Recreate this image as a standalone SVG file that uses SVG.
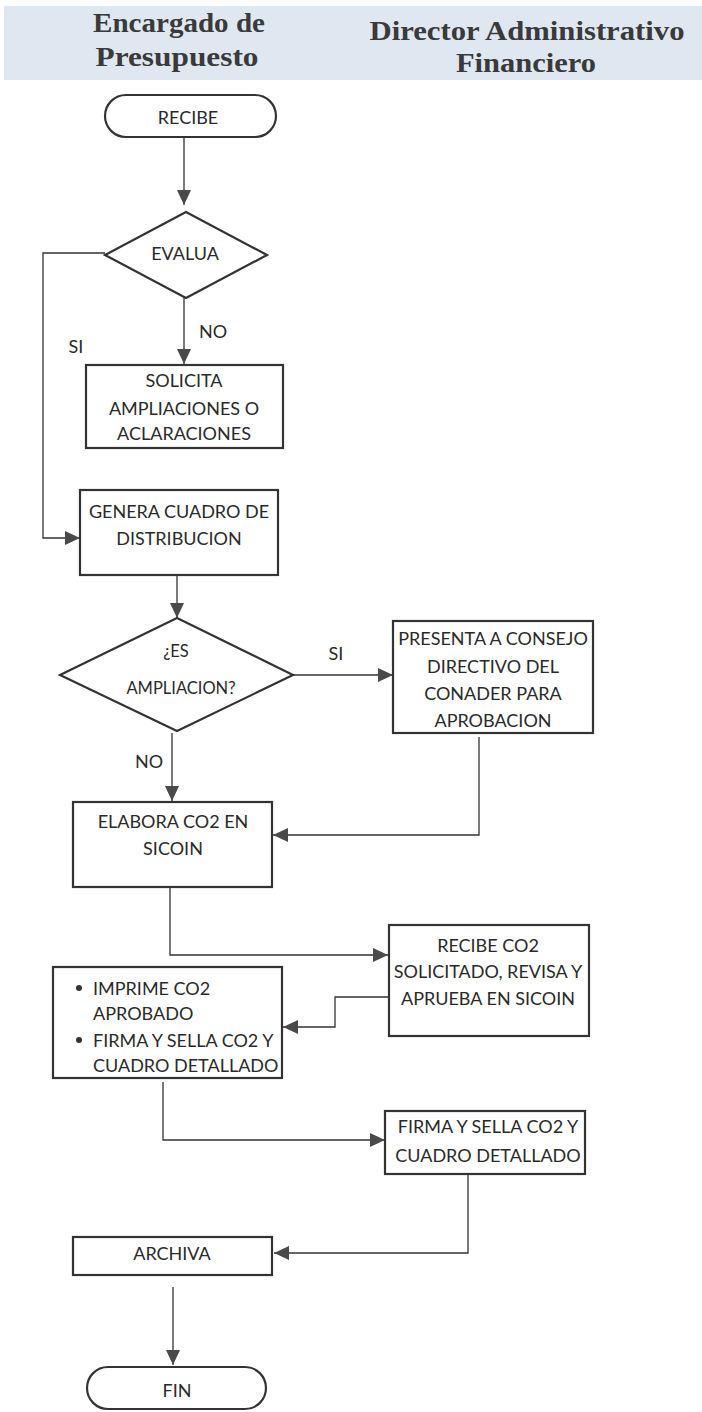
<svg xmlns="http://www.w3.org/2000/svg" width="702" height="1412" viewBox="0 0 702 1412">
  <defs>
    <marker id="arrow" markerWidth="15" markerHeight="14" refX="15" refY="7" orient="auto" markerUnits="userSpaceOnUse">
      <path d="M0,0 L15,7 L0,14 Z" fill="#4a4a4a"/>
    </marker>
    <style>
      .lane { font-family: "Liberation Serif", "DejaVu Serif", serif; font-weight: bold; font-size: 27px; fill: #3a3a3a; text-anchor: middle; }
      .box { fill: #ffffff; stroke: #333333; stroke-width: 2.2; }
      .lbl { font-family: Lato, "Liberation Sans", sans-serif; font-size: 18px; fill: #2a2a2a; text-anchor: middle; }
      .lbl-s { font-family: Lato, "Liberation Sans", sans-serif; font-size: 16.5px; fill: #2a2a2a; text-anchor: middle; }
      .lbl-l { font-family: Lato, "Liberation Sans", sans-serif; font-size: 18px; fill: #2a2a2a; }
      .edge { fill: none; stroke: #333333; stroke-width: 1.3; }
      .edge-label { font-family: Lato, "Liberation Sans", sans-serif; font-size: 18px; fill: #2a2a2a; text-anchor: middle; }
    </style>
  </defs>

  <rect width="702" height="1412" fill="#ffffff"/>

  <!-- lane headers -->
  <g id="lane-headers">
    <rect x="4" y="6" width="698" height="74" fill="#dfe8f1"/>
    <text class="lane" x="179" y="32" textLength="172" lengthAdjust="spacingAndGlyphs">Encargado de</text>
    <text class="lane" x="177" y="66" textLength="163" lengthAdjust="spacingAndGlyphs">Presupuesto</text>
    <text class="lane" x="527" y="40" textLength="315" lengthAdjust="spacingAndGlyphs">Director Administrativo</text>
    <text class="lane" x="526" y="72" textLength="140" lengthAdjust="spacingAndGlyphs">Financiero</text>
  </g>

  <!-- connectors -->
  <g id="connectors">
    <path class="edge" d="M184,137 V205" marker-end="url(#arrow)"/>
    <path class="edge" d="M184,298 V364" marker-end="url(#arrow)"/>
    <path class="edge" d="M105,253 H43 V538 H80" marker-end="url(#arrow)"/>
    <path class="edge" d="M177,575 V618" marker-end="url(#arrow)"/>
    <path class="edge" d="M293,675 H393" marker-end="url(#arrow)"/>
    <path class="edge" d="M172,733 V801" marker-end="url(#arrow)"/>
    <path class="edge" d="M479,737 V835 H273" marker-end="url(#arrow)"/>
    <path class="edge" d="M170,887 V955 H388" marker-end="url(#arrow)"/>
    <path class="edge" d="M389,997 H335 V1027 H283" marker-end="url(#arrow)"/>
    <path class="edge" d="M163,1082 V1140 H385" marker-end="url(#arrow)"/>
    <path class="edge" d="M468,1174 V1253 H274" marker-end="url(#arrow)"/>
    <path class="edge" d="M173,1287 V1365" marker-end="url(#arrow)"/>
    <text class="edge-label" x="213" y="338">NO</text>
    <text class="edge-label" x="76" y="353">SI</text>
    <text class="edge-label" x="336" y="660">SI</text>
    <text class="edge-label" x="149" y="768">NO</text>
  </g>

  <g id="recibe">
    <rect class="box" x="105" y="95" width="171" height="42" rx="21"/>
    <text class="lbl" x="188" y="124">RECIBE</text>
  </g>

  <g id="evalua">
    <polygon class="box" points="186,212 267,255 186,298 105,255"/>
    <text class="lbl" x="185" y="260">EVALUA</text>
  </g>

  <g id="solicita">
    <rect class="box" x="86" y="365" width="197" height="83"/>
    <text class="lbl" x="184" y="387">SOLICITA</text>
    <text class="lbl" x="184" y="415">AMPLIACIONES O</text>
    <text class="lbl" x="184" y="440">ACLARACIONES</text>
  </g>

  <g id="genera">
    <rect class="box" x="80" y="490" width="198" height="85"/>
    <text class="lbl" x="179" y="518">GENERA CUADRO DE</text>
    <text class="lbl" x="179" y="545">DISTRIBUCION</text>
  </g>

  <g id="es-ampliacion">
    <polygon class="box" points="177,618 293,675 177,731 60,675"/>
    <text class="lbl-s" x="176" y="657">¿ES</text>
    <text class="lbl-s" x="181" y="694">AMPLIACION?</text>
  </g>

  <g id="presenta">
    <rect class="box" x="393" y="621" width="200" height="112"/>
    <text class="lbl" x="493" y="645">PRESENTA A CONSEJO</text>
    <text class="lbl" x="493" y="673">DIRECTIVO DEL</text>
    <text class="lbl" x="493" y="700">CONADER PARA</text>
    <text class="lbl" x="493" y="727">APROBACION</text>
  </g>

  <g id="elabora">
    <rect class="box" x="73" y="802" width="199" height="85"/>
    <text class="lbl" x="173" y="828">ELABORA CO2 EN</text>
    <text class="lbl" x="173" y="855">SICOIN</text>
  </g>

  <g id="recibe-co2">
    <rect class="box" x="389" y="925" width="200" height="111"/>
    <text class="lbl" x="488" y="952">RECIBE CO2</text>
    <text class="lbl" x="488" y="978">SOLICITADO, REVISA Y</text>
    <text class="lbl" x="488" y="1005">APRUEBA EN SICOIN</text>
  </g>

  <g id="imprime">
    <rect class="box" x="53" y="967" width="229" height="111"/>
    <circle cx="79" cy="988" r="3" fill="#333333"/>
    <circle cx="79" cy="1040" r="3" fill="#333333"/>
    <text class="lbl-l" x="93" y="995">IMPRIME CO2</text>
    <text class="lbl-l" x="93" y="1020">APROBADO</text>
    <text class="lbl-l" x="93" y="1047">FIRMA Y SELLA CO2 Y</text>
    <text class="lbl-l" x="93" y="1072">CUADRO DETALLADO</text>
  </g>

  <g id="firma">
    <rect class="box" x="385" y="1111" width="200" height="63"/>
    <text class="lbl" x="488" y="1133">FIRMA Y SELLA CO2 Y</text>
    <text class="lbl" x="488" y="1162">CUADRO DETALLADO</text>
  </g>

  <g id="archiva">
    <rect class="box" x="73" y="1237" width="199" height="38"/>
    <text class="lbl" x="172" y="1260">ARCHIVA</text>
  </g>

  <g id="fin">
    <rect class="box" x="87" y="1367" width="179" height="42" rx="21"/>
    <text class="lbl" x="177" y="1397">FIN</text>
  </g>
</svg>
